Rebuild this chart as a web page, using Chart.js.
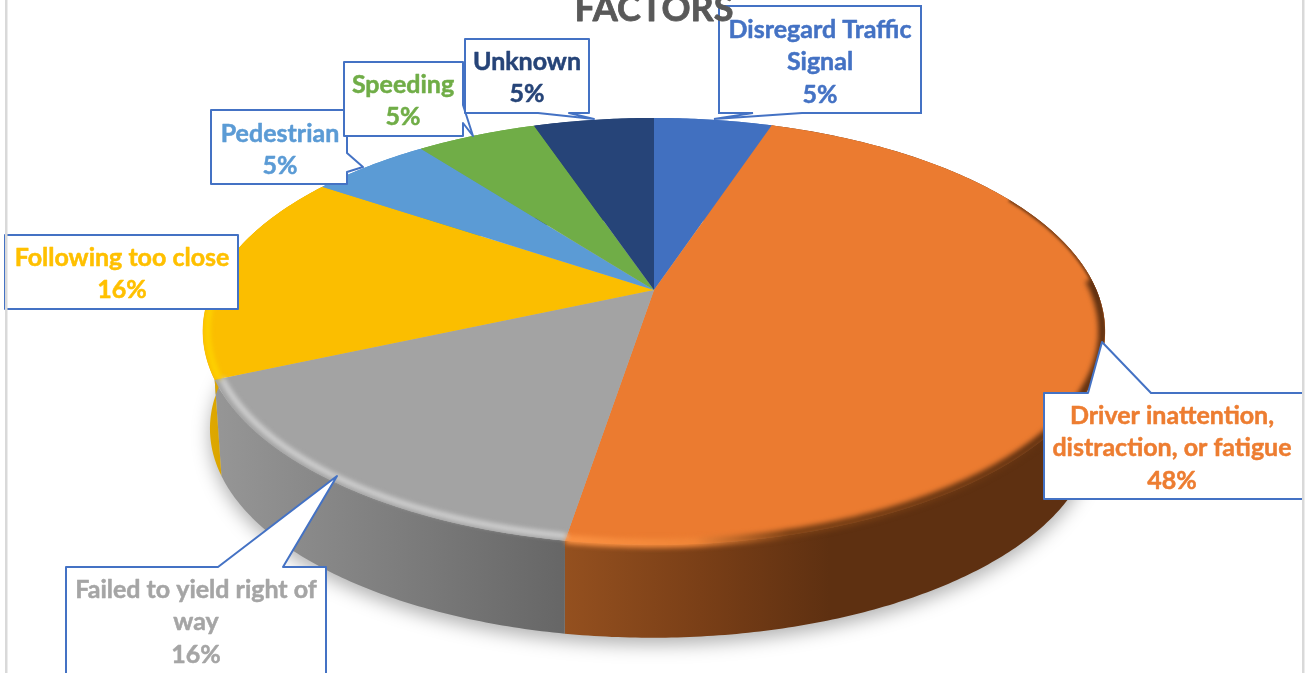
<!DOCTYPE html>
<html><head><meta charset="utf-8">
<style>html,body{margin:0;padding:0;background:#fff;overflow:hidden}canvas{display:block}</style>
<script src="https://cdn.jsdelivr.net/npm/chart.js@4"></script></head>
<body><canvas id="c" width="1307" height="673"></canvas>
<script>
const categories = ["Disregard Traffic Signal","Driver inattention, distraction, or fatigue","Failed to yield right of way","Following too close","Pedestrian","Speeding","Unknown"];
const labelLines = [["Disregard Traffic","Signal"],["Driver inattention,","distraction, or fatigue"],["Failed to yield right of","way"],["Following too close"],["Pedestrian"],["Speeding"],["Unknown"]];
const values = [5.1,47.5,15.8,16.0,5.2,5.2,5.2];
const sliceColors = ["#4170C0","#EB7B30","#A3A3A3","#FBBE00","#5B9BD5","#70AD47","#264478"];
const textColors = ["#4472C4","#ED7D31","#A5A5A5","#FFC000","#5B9BD5","#70AD47","#264478"];
const titleText = "FACTORS";

const callouts = [
 {box:[719,6,921,113], side:'b', ptr:[[802,113],[714,119],[753,113]], tx:820, ty:29.5},
 {box:[1044,393,1303,499], side:'t', ptr:[[1088,393],[1102,342],[1151,393]], tx:1172, ty:415.5},
 {box:[66,567,326,676], side:'t', ptr:[[218,567],[337,476],[283,567]], tx:196, ty:589.5},
 {box:[5,235,238,309], side:'n', ptr:[], tx:122, ty:257.5},
 {box:[211,110,347,184], side:'r', ptr:[[347,153],[363,167],[347,172]], tx:280, ty:133.5},
 {box:[344,62,463,136], side:'r', ptr:[[463,105],[473,136],[463,123]], tx:403, ty:84.5},
 {box:[465,39,589,113], side:'b', ptr:[[569,113],[594,119],[538,113]], tx:527, ty:61.5}
];
const LINE_H = 32.6, FONT = 'bold 25px Lato, Carlito, sans-serif';
const cx=654, hy=290, A=442.5, B=205.4, c=0.194, S=0.98, OFF=98, BX=-2;

const wallStops = [
 null,
 [[566,'#94501f'],[700,'#7a3f17'],[830,'#5e3011'],[1110,'#5e3011']],
 [[215,'#969696'],[400,'#7d7d7d'],[566,'#666666']],
 [[200,'#e2aa00'],[225,'#d9a400']],
 null,null,null
];
function proj(th,k=1){const u=Math.sin(th)*k,v=-Math.cos(th)*k,d=1-c*v;return [cx+A*u/d,hy+B*v/d];}
function projB(th){const p=proj(th);return [cx+BX+(p[0]-cx)*S,hy+(p[1]-hy)*S+OFF];}
function ang(a){return a+Math.PI/2;}
function rimPath(ctx,t0,t1,k){const n=Math.max(4,Math.ceil((t1-t0)*90));ctx.beginPath();for(let i=0;i<=n;i++){const p=proj(t0+(t1-t0)*i/n,k);i?ctx.lineTo(p[0],p[1]):ctx.moveTo(p[0],p[1]);}}
function silhouette(ctx){
 const p=new Path2D();
 for(const f of [proj,projB]){for(let i=0;i<=180;i++){const q=f(i/180*2*Math.PI);i?p.lineTo(q[0],q[1]):p.moveTo(q[0],q[1]);}p.closePath();}
 return p;
}

const pie3d = {
 id:'pie3d',
 beforeDatasetsDraw(chart){
  const ctx=chart.ctx, arcs=chart.getDatasetMeta(0).data, W=chart.width;
  ctx.save();ctx.filter='blur(9px)';ctx.fillStyle='rgba(0,0,0,0.30)';ctx.beginPath();
  for(let i=0;i<=180;i++){const p=projB(i/180*2*Math.PI);ctx[i?'lineTo':'moveTo'](p[0],p[1]+7);}
  ctx.fill();ctx.restore();
  arcs.forEach((a,i)=>{
   const t0=ang(a.startAngle),t1=ang(a.endAngle),n=Math.ceil((t1-t0)*90);
   const st=wallStops[i];let fill=sliceColors[i];
   if(st){fill=ctx.createLinearGradient(st[0][0],0,st[st.length-1][0],0);
    const x0=st[0][0],x1=st[st.length-1][0];st.forEach(s=>fill.addColorStop((s[0]-x0)/(x1-x0),s[1]));}
   ctx.fillStyle=fill;ctx.beginPath();
   for(let j=0;j<=n;j++){const p=proj(t0+(t1-t0)*j/n);ctx[j?'lineTo':'moveTo'](p[0],p[1]);}
   for(let j=n;j>=0;j--){const p=projB(t0+(t1-t0)*j/n);ctx.lineTo(p[0],p[1]);}
   ctx.closePath();ctx.fill();
  });
  const R=arcs[0].outerRadius, ox=arcs[0].x, oy=arcs[0].y;
  for(let Y=Math.floor(hy-B/(1+c))-1;Y<hy+B/(1-c)+1;Y++){
   let y0=Y-hy,y1=y0+1;
   const v0=y0/(B+c*y0),v1=y1/(B+c*y1),d=1-c*(v0+v1)/2;
   const sx=A/(R*d),sy=1/((v1-v0)*R);
   ctx.save();ctx.beginPath();ctx.rect(0,Y,W,1);ctx.clip();
   ctx.setTransform(sx,0,0,sy,cx-sx*ox,Y-sy*(oy+v0*R));
   arcs.forEach(a=>a.draw(ctx));
   ctx.restore();
  }
  ctx.save();
  const a1=arcs[1],a2=arcs[2],a3=arcs[3];
  ctx.clip(silhouette(ctx),'nonzero');
  ctx.filter='blur(2.5px)';
  let g=ctx.createLinearGradient(566,0,1100,0);
  g.addColorStop(0,'#fb9142');g.addColorStop(.24,'#f08537');g.addColorStop(.42,'#7a4015');g.addColorStop(1,'#5e3011');
  ctx.strokeStyle=g;ctx.lineWidth=9;rimPath(ctx,ang(a1.startAngle)+1.2,ang(a1.endAngle),0.995);ctx.stroke();
  ctx.filter='blur(1.5px)';
  ctx.strokeStyle='#5e3011';ctx.lineWidth=3;rimPath(ctx,ang(a1.startAngle)+0.75,ang(a1.startAngle)+1.3,1.0);ctx.stroke();
  ctx.filter='blur(2.5px)';
  ctx.strokeStyle='#d6d6d6';ctx.lineWidth=5;rimPath(ctx,ang(a2.startAngle),ang(a2.endAngle),0.985);ctx.stroke();
  ctx.strokeStyle='rgba(255,216,0,.9)';ctx.lineWidth=5;rimPath(ctx,ang(a3.startAngle),ang(a3.startAngle)+0.55,0.99);ctx.stroke();
  ctx.restore();
  return false;
 },
 afterDraw(chart){
  const ctx=chart.ctx;
  ctx.save();
  callouts.forEach((co,i)=>{
   const [l,t,r,b]=co.box;
   ctx.beginPath();ctx.moveTo(l,t);
   if(co.side==='t')co.ptr.forEach(p=>ctx.lineTo(p[0],p[1]));
   ctx.lineTo(r,t);
   if(co.side==='r')co.ptr.forEach(p=>ctx.lineTo(p[0],p[1]));
   ctx.lineTo(r,b);
   if(co.side==='b')co.ptr.slice().sort((p,q)=>q[1]===p[1]?q[0]-p[0]:0).forEach(p=>ctx.lineTo(p[0],p[1]));
   ctx.lineTo(l,b);ctx.closePath();
   ctx.fillStyle='#fff';ctx.fill();
   ctx.strokeStyle='#4472C4';ctx.lineWidth=2;ctx.stroke();
   ctx.font=FONT;ctx.fillStyle=textColors[i];ctx.strokeStyle=textColors[i];ctx.lineWidth=0.5;ctx.lineJoin='round';
   ctx.textAlign='center';ctx.textBaseline='middle';
   const lines=labelLines[i].concat(Math.round(values[i])+'%');
   lines.forEach((s,j)=>{ctx.fillText(s,co.tx,co.ty+j*LINE_H);ctx.strokeText(s,co.tx,co.ty+j*LINE_H);});
  });
  ctx.fillStyle='#d9d9d9';ctx.fillRect(5,0,2.5,673);ctx.fillRect(1302,0,2.5,673);
  ctx.font='bold 36px Lato, Carlito, sans-serif';ctx.fillStyle='#595959';ctx.strokeStyle='#595959';ctx.lineWidth=0.8;ctx.textAlign='center';ctx.textBaseline='alphabetic';
  ctx.fillText(titleText,654,21);ctx.strokeText(titleText,654,21);
  ctx.restore();
 }
};

new Chart(document.getElementById('c'),{
 type:'pie',
 data:{labels:categories,datasets:[{data:values,backgroundColor:sliceColors,borderWidth:0}]},
 options:{responsive:false,animation:false,
  plugins:{legend:{display:false},tooltip:{enabled:false},title:{display:false}}},
 plugins:[pie3d]
});
</script></body></html>
